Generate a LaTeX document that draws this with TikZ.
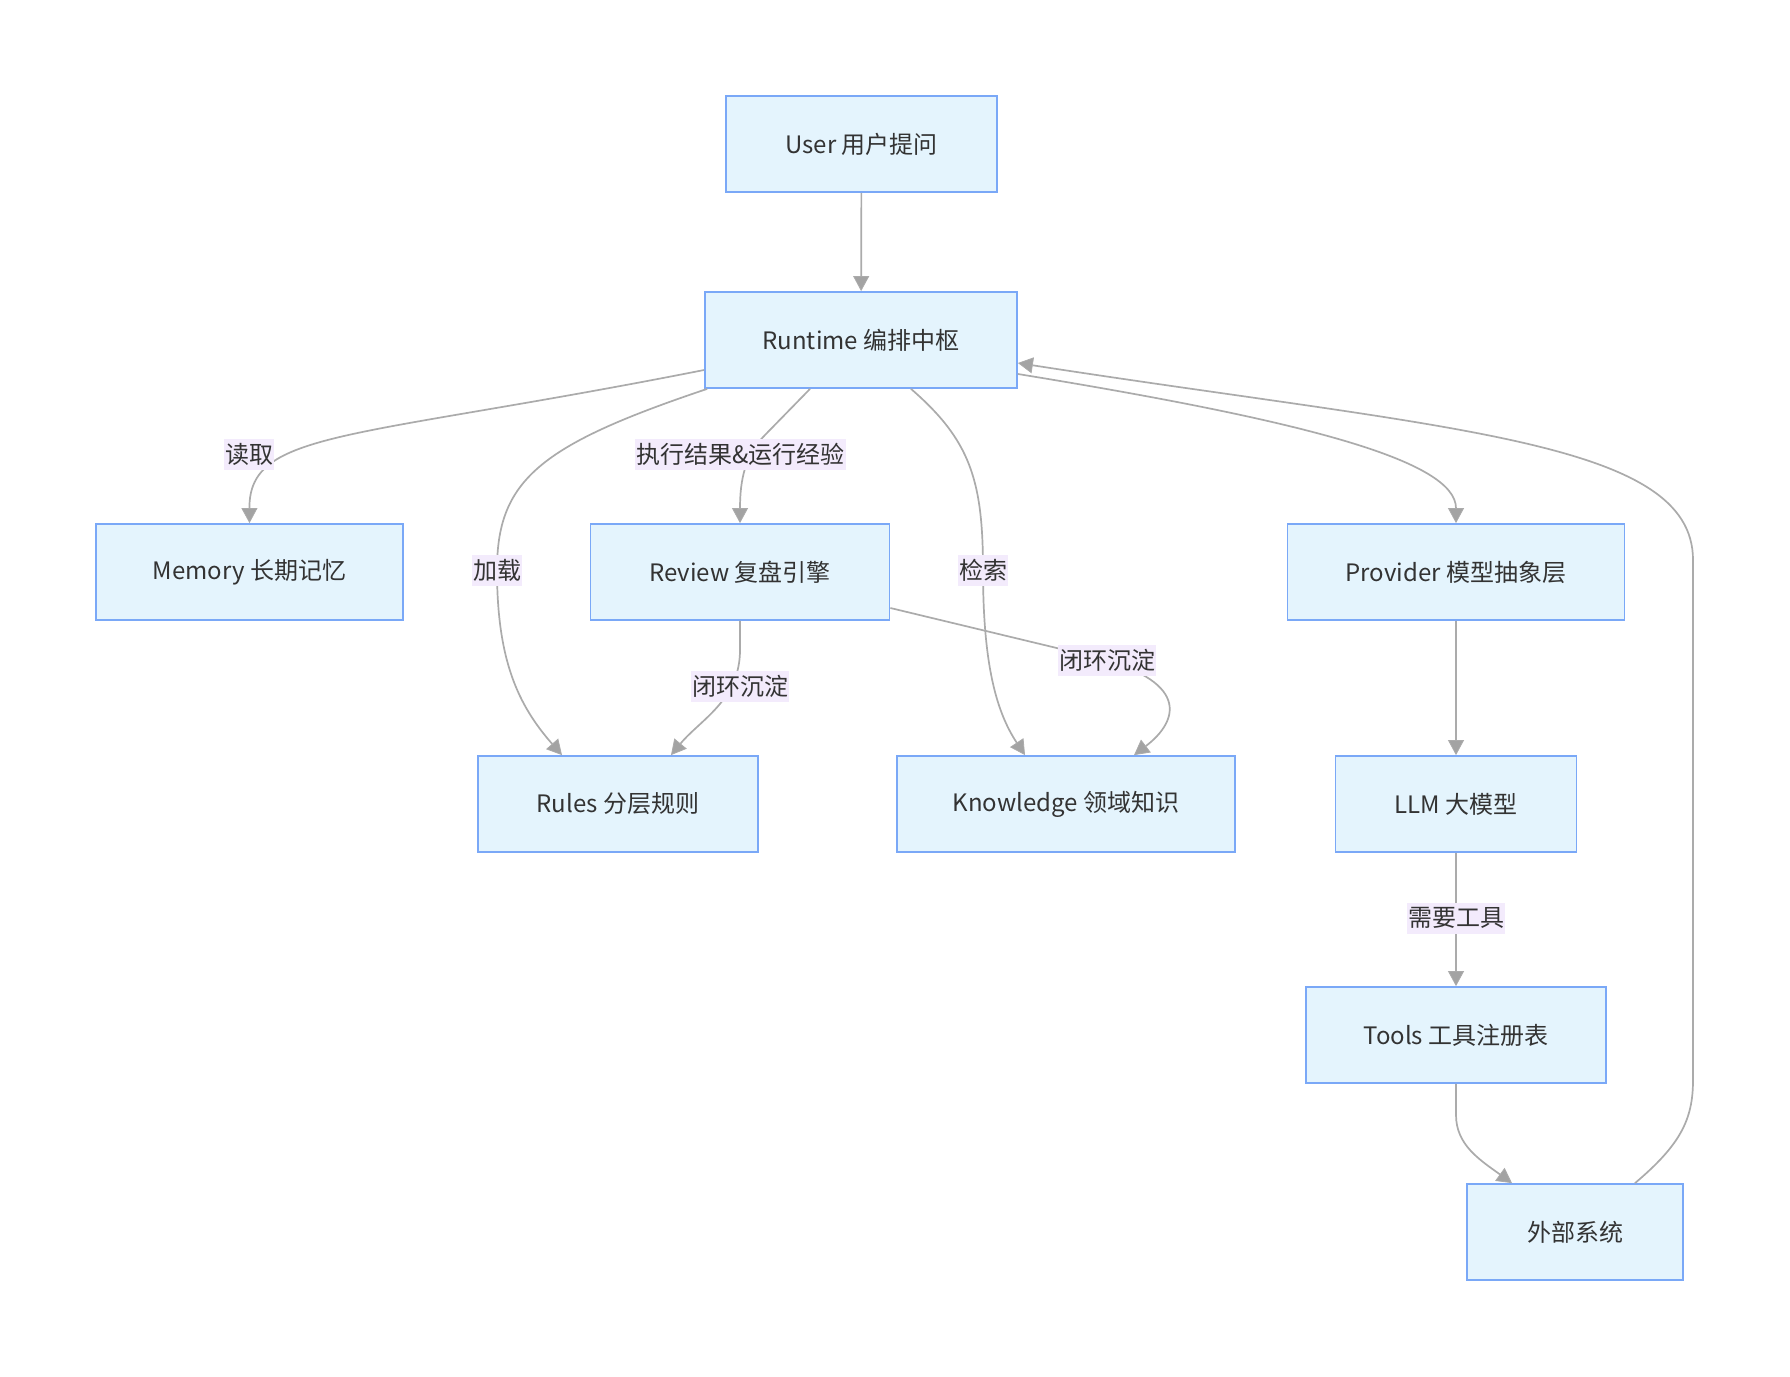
\documentclass[tikz,border=0pt]{standalone}
\usepackage{fontspec}
\setmainfont{Noto Sans CJK SC}
\usetikzlibrary{arrows.meta}
\definecolor{boxfill}{HTML}{E4F4FD}
\definecolor{boxline}{HTML}{7AA8F7}
\definecolor{lblfill}{HTML}{F3EBFC}
\definecolor{edgec}{HTML}{ABABAB}
\definecolor{tipc}{HTML}{A3A3A3}
\definecolor{txt}{HTML}{333333}
\begin{document}
\begin{tikzpicture}[x=1pt,y=-1pt,
  box/.style={draw=boxline, line width=1.8pt, fill=boxfill, minimum height=96pt, text=txt, inner sep=0pt, font=\fontsize{24}{28}\selectfont},
  lbl/.style={fill=lblfill, text=txt, inner xsep=1pt, inner ysep=0pt, minimum height=31pt, font=\fontsize{24}{28}\selectfont},
  conn/.style={draw=edgec, line width=1.7pt, -{Triangle[length=15pt,width=16pt,fill=tipc,line width=0.8pt]}}]
\useasboundingbox (0,0) rectangle (1790,1376);
\fill[white] (0,0) rectangle (1790,1376);
% nodes
\node[box, minimum width=271pt] (user) at (861.5,144) {User 用户提问};
\node[box, minimum width=312pt] (run) at (861,340) {Runtime 编排中枢};
\node[box, minimum width=307pt] (mem) at (249.5,572) {Memory 长期记忆};
\node[box, minimum width=299pt] (rev) at (740,572) {Review 复盘引擎};
\node[box, minimum width=337pt] (prov) at (1456,572) {Provider 模型抽象层};
\node[box, minimum width=280pt] (rules) at (618,804) {Rules 分层规则};
\node[box, minimum width=338pt] (know) at (1066,804) {Knowledge 领域知识};
\node[box, minimum width=241pt] (llm) at (1456,804) {LLM 大模型};
\node[box, minimum width=300pt] (tools) at (1456,1035) {Tools 工具注册表};
\node[box, minimum width=216pt] (ext) at (1575,1232) {外部系统};
% connectors
\draw[conn] (user) -- (run);
\draw[conn] ([yshift=-30pt]run.west) .. controls (350,440) and (249,430) .. (mem.north);
\draw[conn] ([xshift=3pt]run.south west) .. controls (540,445) and (497,480) .. (497,570)
   .. controls (497,660) and (518,705) .. ([xshift=-56pt]rules.north);
\draw[conn] ([xshift=-51pt]run.south) -- (765,435) .. controls (745,455) and (740,480) .. (rev.north);
\draw[conn] ([xshift=50pt]run.south) .. controls (970,440) and (983,480) .. (983,570)
   .. controls (983,660) and (995,710) .. ([xshift=-41pt]know.north);
\draw[conn] ([yshift=-34pt]run.east) .. controls (1300,420) and (1456,460) .. (prov.north);
\draw[conn] ([xshift=60pt]ext.north) .. controls (1680,1145) and (1693,1120) .. (1693,1080)
   -- (1693,560) .. controls (1693,440) and (1450,430) .. ([yshift=-23pt]run.east);
\draw[conn] (rev.south) -- (740,650) .. controls (740,700) and (700,720) .. ([xshift=53pt]rules.north);
\draw[conn] ([yshift=-36pt]rev.east) -- (1090,656) .. controls (1190,680) and (1180,720) .. ([xshift=68pt]know.north);
\draw[conn] (prov) -- (llm);
\draw[conn] (llm) -- (tools);
\draw[conn] (tools.south) -- (1456,1115) .. controls (1456,1145) and (1480,1160) .. ([xshift=-63pt]ext.north);
% labels
\node[lbl] (l1) at (249,454) {读取};
\node[lbl] (l2) at (740.5,454) {执行结果\&运行经验};
\node[lbl] (l3) at (497,570) {加载};
\node[lbl] (l4) at (983,570) {检索};
\node[lbl] (l5) at (740,686) {闭环沉淀};
\node[lbl] (l6) at (1107,660) {闭环沉淀};
\node[lbl] (l7) at (1456,918) {需要工具};
\end{tikzpicture}
\end{document}
